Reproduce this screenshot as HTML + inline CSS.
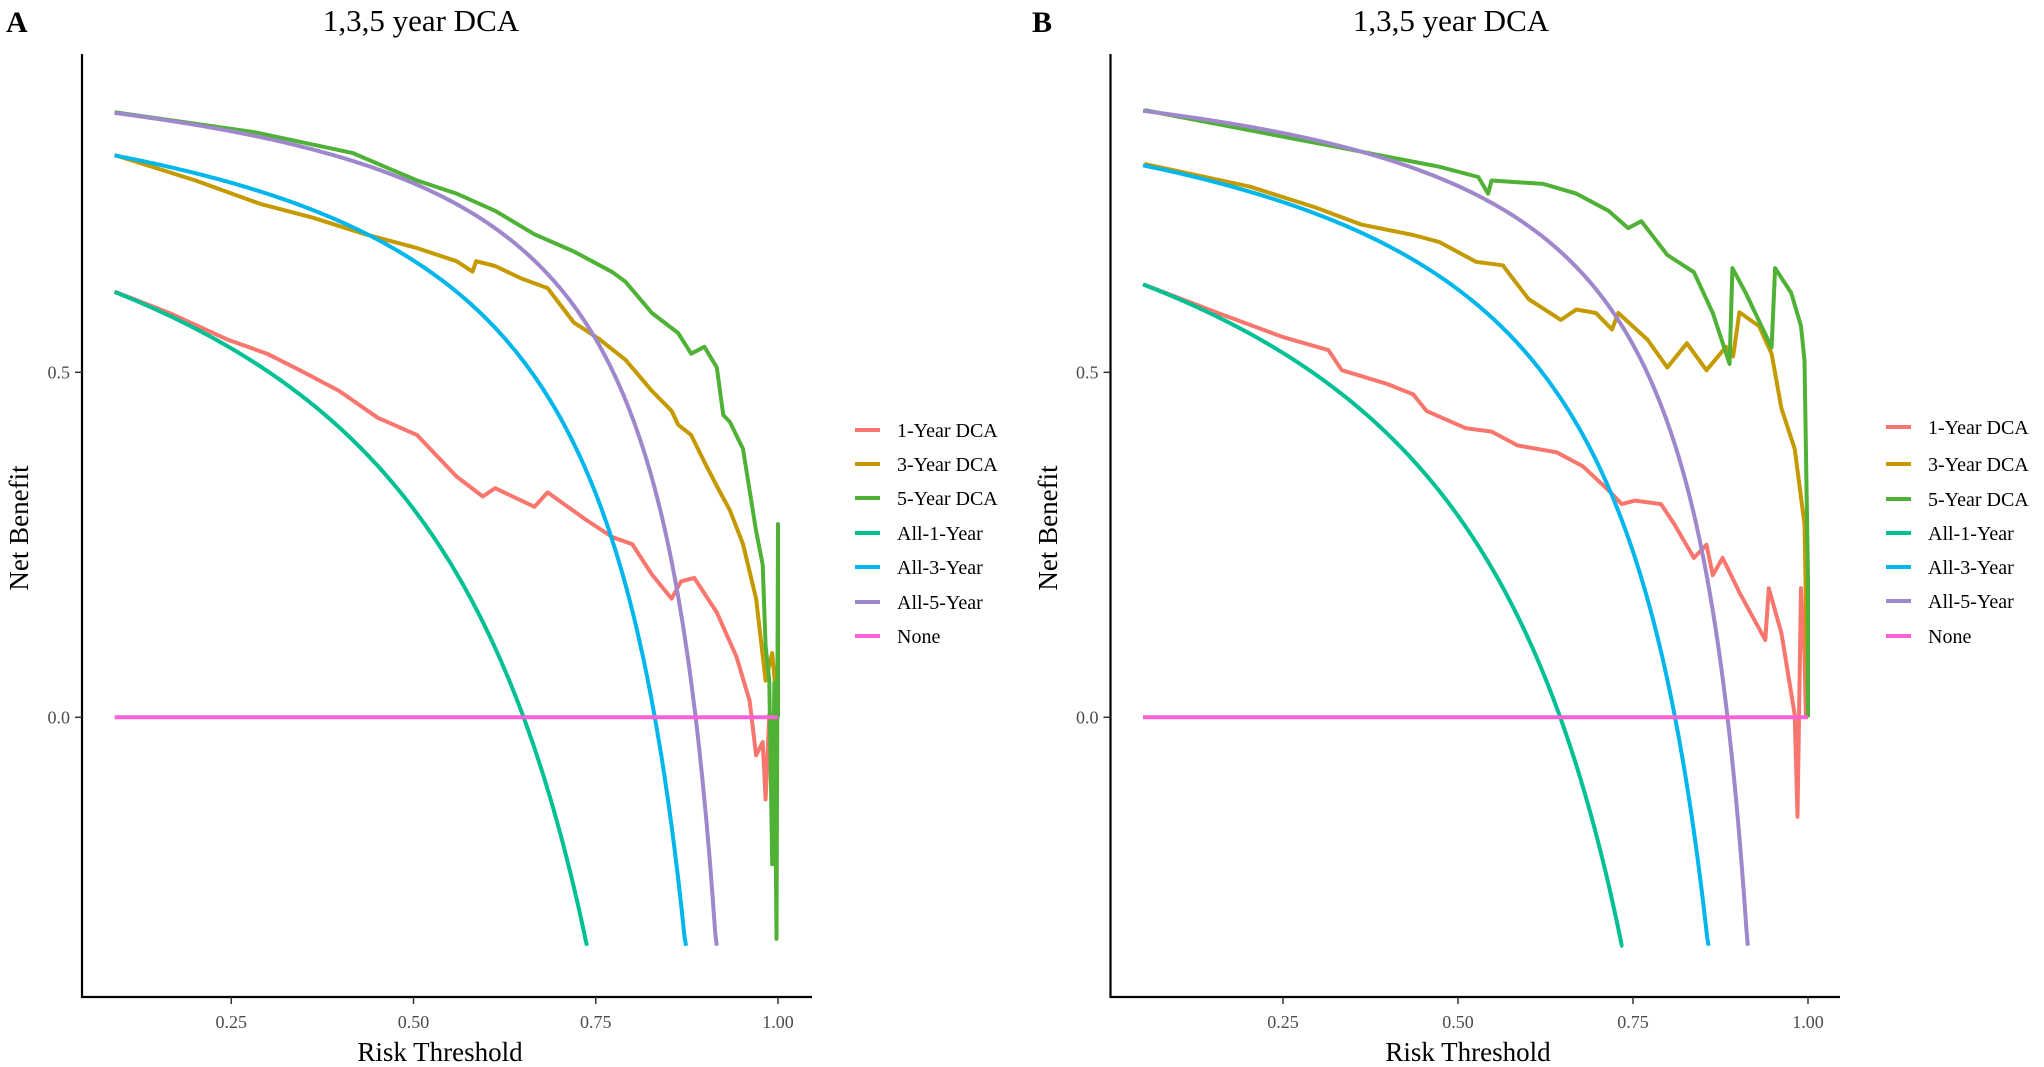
<!DOCTYPE html>
<html><head><meta charset="utf-8">
<style>
html,body{margin:0;padding:0;background:#fff;}
svg{display:block;font-family:"Liberation Serif","DejaVu Serif",serif;}
</style></head>
<body>
<svg id="chart" width="2044" height="1067" viewBox="0 0 2044 1067" xmlns="http://www.w3.org/2000/svg"></svg>
<script>
const seriesNames = ["1-Year DCA","3-Year DCA","5-Year DCA","All-1-Year","All-3-Year","All-5-Year","None"];
const seriesColors = ["#F8766D","#C49A00","#4FB236","#00C094","#00B6EB","#9E87CB","#FB61D7"];
const xTicks = [0.25,0.50,0.75,1.00];
const xTickLabels = ["0.25","0.50","0.75","1.00"];
const yTicks = [0.0,0.5];
const yTickLabels = ["0.0","0.5"];

// Panel A
const aPrevalence = [0.651,0.831,0.887];
const aStart = 0.09;
const aRed = [[0.090,0.617],[0.165,0.586],[0.246,0.547],[0.299,0.527],[0.344,0.503],[0.398,0.473],[0.451,0.434],[0.505,0.409],[0.559,0.349],[0.595,0.320],[0.612,0.332],[0.666,0.305],[0.684,0.326],[0.737,0.286],[0.773,0.261],[0.800,0.251],[0.827,0.207],[0.854,0.172],[0.867,0.197],[0.885,0.202],[0.916,0.152],[0.943,0.088],[0.961,0.024],[0.970,-0.055],[0.979,-0.036],[0.983,-0.119],[0.988,0.004],[0.997,0]];
const aGold = [[0.090,0.815],[0.201,0.778],[0.290,0.744],[0.362,0.724],[0.434,0.700],[0.505,0.680],[0.559,0.661],[0.581,0.646],[0.586,0.661],[0.612,0.654],[0.648,0.636],[0.684,0.622],[0.720,0.572],[0.755,0.548],[0.791,0.518],[0.827,0.473],[0.854,0.444],[0.863,0.424],[0.881,0.409],[0.899,0.370],[0.916,0.335],[0.934,0.300],[0.952,0.251],[0.970,0.172],[0.983,0.053],[0.992,0.093],[1.0,0.0]];
const aGreen = [[0.090,0.877],[0.282,0.848],[0.416,0.818],[0.505,0.778],[0.559,0.759],[0.612,0.734],[0.666,0.700],[0.720,0.675],[0.773,0.645],[0.791,0.631],[0.827,0.586],[0.863,0.557],[0.881,0.527],[0.899,0.537],[0.916,0.507],[0.925,0.438],[0.934,0.428],[0.952,0.389],[0.961,0.329],[0.970,0.270],[0.979,0.221],[0.983,0.103],[0.988,0.053],[0.992,-0.213],[0.995,0.05],[0.998,-0.321],[1.0,0.28],[1.0,0.0]];

// Panel B
const bPrevalence = [0.646,0.810,0.885];
const bStart = 0.05;
const bRed = [[0.052,0.627],[0.157,0.586],[0.250,0.551],[0.315,0.532],[0.334,0.503],[0.399,0.483],[0.436,0.468],[0.455,0.444],[0.511,0.419],[0.548,0.414],[0.585,0.394],[0.641,0.384],[0.678,0.364],[0.715,0.329],[0.734,0.309],[0.753,0.314],[0.790,0.309],[0.809,0.280],[0.837,0.231],[0.855,0.250],[0.864,0.206],[0.878,0.231],[0.902,0.181],[0.939,0.112],[0.944,0.187],[0.962,0.122],[0.981,0.004],[0.985,-0.144],[0.990,0.187],[0.995,0.09],[0.997,0]];
const bGold = [[0.052,0.802],[0.203,0.769],[0.296,0.739],[0.362,0.714],[0.436,0.699],[0.473,0.689],[0.526,0.660],[0.564,0.655],[0.601,0.606],[0.647,0.576],[0.669,0.591],[0.697,0.586],[0.720,0.562],[0.729,0.586],[0.771,0.547],[0.799,0.507],[0.827,0.542],[0.855,0.503],[0.883,0.537],[0.893,0.523],[0.902,0.587],[0.930,0.567],[0.948,0.527],[0.962,0.448],[0.981,0.389],[0.995,0.280],[1.0,0.0]];
const bGreen = [[0.052,0.880],[0.325,0.827],[0.473,0.798],[0.529,0.783],[0.543,0.759],[0.548,0.778],[0.622,0.773],[0.669,0.759],[0.715,0.734],[0.743,0.709],[0.762,0.719],[0.799,0.670],[0.837,0.645],[0.864,0.586],[0.888,0.512],[0.892,0.651],[0.911,0.615],[0.948,0.536],[0.953,0.651],[0.976,0.615],[0.990,0.567],[0.995,0.517],[1.0,0.2],[1.0,0.0]];

const NS="http://www.w3.org/2000/svg";
const svg=document.getElementById('chart');
function mk(tag,attrs,parent){const e=document.createElementNS(NS,tag);for(const k in attrs)e.setAttribute(k,attrs[k]);(parent||svg).appendChild(e);return e;}

function panel(cfg){
  const g=mk('g',{});
  
  
  const X=t=>cfg.x0+t*cfg.xs;
  const Y=v=>717.3-v*690;
  const yMin=-0.331;
  const L=mk('text',{x:cfg.letterX,y:32,'font-size':30,'font-weight':'bold',fill:'#000'},g);L.textContent=cfg.id;
  
  
  const T=mk('text',{x:cfg.titleX,y:31,'font-size':31,'text-anchor':'middle',fill:'#000'},g);T.textContent='1,3,5 year DCA';
  
  
  const ax=mk('path',{d:`M${cfg.axisX},54 V997 H${cfg.axisR}`,stroke:'#000','stroke-width':2.2,fill:'none'},g);
  
  
  xTicks.forEach((t,i)=>{
    mk('line',{x1:X(t),x2:X(t),y1:997,y2:1004,stroke:'#333','stroke-width':1.5},g);
    const tx=mk('text',{x:X(t),y:1028,'font-size':18,'text-anchor':'middle',fill:'#4d4d4d'},g);tx.textContent=xTickLabels[i];
    
    
  });
  yTicks.forEach((v,i)=>{
    mk('line',{x1:cfg.axisX-7,x2:cfg.axisX,y1:Y(v),y2:Y(v),stroke:'#333','stroke-width':1.5},g);
    const tx=mk('text',{x:cfg.axisX-12,y:Y(v)+6,'font-size':18,'text-anchor':'end',fill:'#4d4d4d'},g);tx.textContent=yTickLabels[i];
    
    
  });
  const xt=mk('text',{x:cfg.xTitleX,y:1061,'font-size':27,'text-anchor':'middle',fill:'#000'},g);xt.textContent='Risk Threshold';
  
  
  const yt=mk('text',{x:0,y:0,'font-size':27,'text-anchor':'middle',fill:'#000',transform:`translate(${cfg.yTitleX},528) rotate(-90)`},g);yt.textContent='Net Benefit';
  
  
  function line(pts,color,name){
    const d=pts.map((p,i)=>(i?'L':'M')+X(p[0]).toFixed(1)+','+Y(p[1]).toFixed(1)).join(' ');
    const p=mk('path',{d:d,stroke:color,'stroke-width':4,fill:'none','stroke-linejoin':'round'},g);
    
    
  }
  line(cfg.red,seriesColors[0],'dca-1-year-line');
  line(cfg.gold,seriesColors[1],'dca-3-year-line');
  line(cfg.green,seriesColors[2],'dca-5-year-line');
  cfg.prev.forEach((p,k)=>{
    const pts=[];
    for(let t=cfg.start;t<1;t+=0.002){const nb=p-(1-p)*t/(1-t);if(nb<yMin){pts.push([t,yMin]);break;}pts.push([t,nb]);}
    line(pts,seriesColors[3+k],'treat-all-'+(k*2+1)+'-year-curve');
  });
  line([[cfg.start,0],[1,0]],seriesColors[6],'none-line');
  seriesNames.forEach((n,i)=>{
    const y=cfg.legY[i];
    const k=mk('line',{x1:cfg.keyX,x2:cfg.keyX+25,y1:y,y2:y,stroke:seriesColors[i],'stroke-width':4},g);
    
    
    const tx=mk('text',{x:cfg.keyX+42,y:y+7,'font-size':20,fill:'#000'},g);tx.textContent=n;
    
    
  });
}
panel({id:'A',letterX:6,titleX:421,x0:49,xs:729,axisX:82,axisR:812,start:aStart,prev:aPrevalence,red:aRed,gold:aGold,green:aGreen,xTitleX:440,yTitleX:28,keyX:855,legY:[430,464,498,533,567,602,636]});
panel({id:'B',letterX:1032,titleX:1451,x0:1108,xs:700,axisX:1110.5,axisR:1840,start:bStart,prev:bPrevalence,red:bRed,gold:bGold,green:bGreen,xTitleX:1468,yTitleX:1057,keyX:1886,legY:[427,464,499,533,567,601,636]});
</script>
</body></html>
